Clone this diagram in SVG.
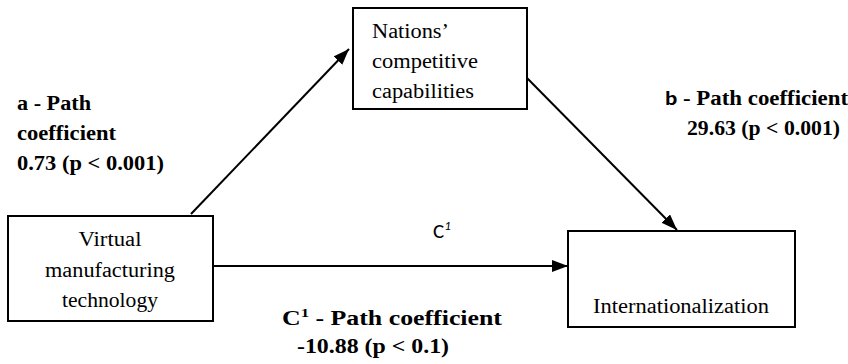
<svg xmlns="http://www.w3.org/2000/svg" width="848" height="364" viewBox="0 0 848 364">
<style>
.box{fill:#fff;stroke:#000;stroke-width:2}
.t{font-family:'Liberation Serif','DejaVu Serif',serif;font-size:20px;fill:#000}
.b{font-family:'Liberation Serif','DejaVu Serif',serif;font-size:20px;font-weight:bold;fill:#000}
.s{font-family:Carlito,Lato,'Open Sans','Liberation Sans',sans-serif}
.edge{stroke:#000;stroke-width:2;fill:none;marker-end:url(#arr)}
</style>
<defs>
<marker id="arr" markerUnits="userSpaceOnUse" markerWidth="17" markerHeight="13" refX="16" refY="6" orient="auto">
<path d="M0,0 L16,6 L0,12 z" fill="#000"/>
</marker>
</defs>
<rect width="848" height="364" fill="#fff"/>
<g id="connectors">
<line class="edge" x1="191" y1="214" x2="349" y2="49"/>
<line class="edge" x1="527" y1="78" x2="677" y2="230"/>
<line class="edge" x1="213" y1="266" x2="568" y2="266"/>
</g>
<g id="node-nations">
<rect class="box" x="353" y="8" width="174" height="101"/>
<text class="t" font-family="Liberation Serif, serif" x="372" y="38" textLength="77" lengthAdjust="spacingAndGlyphs">Nations’</text>
<text class="t" font-family="Liberation Serif, serif" x="372" y="68" textLength="106" lengthAdjust="spacingAndGlyphs">competitive</text>
<text class="t" font-family="Liberation Serif, serif" x="372" y="98" textLength="102" lengthAdjust="spacingAndGlyphs">capabilities</text>
</g>
<g id="node-virtual">
<rect class="box" x="8" y="216" width="205" height="105"/>
<text class="t" x="110" y="246" text-anchor="middle" textLength="63" lengthAdjust="spacingAndGlyphs">Virtual</text>
<text class="t" x="110" y="277" text-anchor="middle" textLength="130" lengthAdjust="spacingAndGlyphs">manufacturing</text>
<text class="t" x="110" y="307" text-anchor="middle" textLength="96" lengthAdjust="spacingAndGlyphs">technology</text>
</g>
<g id="node-internationalization">
<rect class="box" x="568" y="231" width="227" height="96"/>
<text class="t" x="593" y="313" textLength="176" lengthAdjust="spacingAndGlyphs">Internationalization</text>
</g>
<g id="labels">
<text class="b" x="17" y="110" textLength="74" lengthAdjust="spacingAndGlyphs">a - Path</text>
<text class="b" x="17" y="140" textLength="99" lengthAdjust="spacingAndGlyphs">coefficient</text>
<text class="b" x="17" y="170" textLength="147" lengthAdjust="spacingAndGlyphs">0.73 (p &lt; 0.001)</text>
<text class="b" x="665" y="105" textLength="183" lengthAdjust="spacingAndGlyphs"><tspan class="s">b</tspan> - Path coefficient</text>
<text class="b" x="687" y="135" textLength="153" lengthAdjust="spacingAndGlyphs">29.63 (p &lt; 0.001)</text>
<text class="s" x="433" y="238" font-size="21">C<tspan font-size="13" font-style="italic" dy="-8">1</tspan></text>
<text class="b" x="282" y="325" textLength="220" lengthAdjust="spacingAndGlyphs">C<tspan font-size="13" dy="-8">1</tspan><tspan dy="8"> - Path coefficient</tspan></text>
<text class="b" x="297" y="353" textLength="152" lengthAdjust="spacingAndGlyphs">-10.88 (p &lt; 0.1)</text>
</g>
</svg>
